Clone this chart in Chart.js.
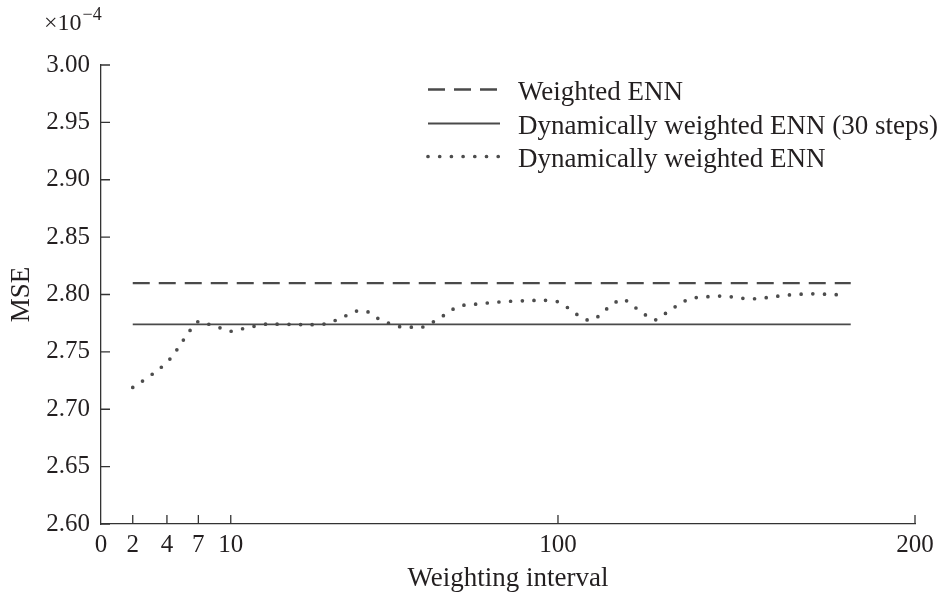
<!DOCTYPE html>
<html lang="en">
<head>
<meta charset="UTF-8" />
<title>MSE vs weighting interval</title>
<script src="https://cdn.jsdelivr.net/npm/chart.js"></script>
<style>
  body { margin: 0; background: #fff; }
  canvas { display: block; }
</style>
</head>
<body>
<canvas id="chart" width="941" height="597"></canvas>
<script>
  // axis ticks
  var xTicks = [0, 2, 4, 7, 10, 100, 200];
  var yTicks = [2.60, 2.65, 2.70, 2.75, 2.80, 2.85, 2.90, 2.95, 3.00];

  // dynamically weighted ENN, MSE (x1e-4) per weighting interval
  var intervals = [2, 3, 4, 5, 6, 7, 8, 9, 10, 13, 16, 19, 25, 35, 38, 41, 44, 46, 48, 50,
    53, 56, 59, 62, 65, 68, 70.5, 73, 76.5, 80, 83, 86, 89, 99, 102, 104.5, 107.5, 109, 110.5,
    112.5, 115, 118, 121, 123.5, 126, 127.5, 129, 131.5, 134.5, 137, 140.5, 144, 147, 150,
    153.5, 157, 160, 163, 166.5, 170, 173, 176.5, 180];
  var mseDynamic = [2.719, 2.729, 2.741, 2.7525, 2.766, 2.7765, 2.774, 2.771, 2.768, 2.770,
    2.772, 2.774, 2.774, 2.774, 2.7765, 2.7805, 2.785, 2.786, 2.7845, 2.780,
    2.7755, 2.7722, 2.7718, 2.771, 2.775, 2.7805, 2.786, 2.790, 2.7913, 2.7924, 2.7933, 2.7939,
    2.7944, 2.7944, 2.790, 2.7843, 2.7785, 2.7777, 2.779,
    2.7846, 2.7904, 2.796, 2.790, 2.7846, 2.779, 2.778, 2.781, 2.7866, 2.7924, 2.7965, 2.7977,
    2.7985, 2.7985, 2.7974, 2.7962, 2.7968, 2.7979, 2.7991, 2.800, 2.8005, 2.8005, 2.800, 2.7997];

  // constant references
  var flatRange = [2, 182];
  var mseWeighted = 2.81;
  var mseDyn30 = 2.774;

  var seriesNames = ["Weighted ENN", "Dynamically weighted ENN (30 steps)", "Dynamically weighted ENN"];

  var FONT = "'Liberation Serif', 'Times New Roman', serif";
  var INK = "#231f20";
  var LINE = "#4a4a4a";

  // x axis is piecewise: 0..10 stretched, then linear
  class BrokenScale extends Chart.LinearScale {
    warp(v) {
      var b = this.options.breaks;
      if (v <= b[0][0]) return b[0][1];
      for (var i = 1; i < b.length; i++) {
        if (v <= b[i][0]) {
          var t = (v - b[i - 1][0]) / (b[i][0] - b[i - 1][0]);
          return b[i - 1][1] + t * (b[i][1] - b[i - 1][1]);
        }
      }
      return b[b.length - 1][1];
    }
    getPixelForValue(v) {
      return v == null ? NaN : this.getPixelForDecimal(this.warp(v));
    }
    getValueForPixel(p) {
      var d = this.getDecimalForPixel(p), b = this.options.breaks;
      for (var i = 1; i < b.length; i++) {
        if (d <= b[i][1]) {
          var t = (d - b[i - 1][1]) / (b[i][1] - b[i - 1][1]);
          return b[i - 1][0] + t * (b[i][0] - b[i - 1][0]);
        }
      }
      return b[b.length - 1][0];
    }
  }
  BrokenScale.id = "broken";
  BrokenScale.defaults = {};
  Chart.register(BrokenScale);

  function flat(v) {
    return [{ x: flatRange[0], y: v }, { x: flatRange[1], y: v }];
  }

  var dynPoints = intervals.map(function (x, i) { return { x: x, y: mseDynamic[i] }; });

  var tickMarks = {
    id: "tickMarks",
    afterDraw: function (chart) {
      var ctx = chart.ctx, a = chart.chartArea;
      var xs = chart.scales.x, ys = chart.scales.y;
      ctx.save();
      ctx.strokeStyle = "#333";
      ctx.lineWidth = 1.3;
      ctx.beginPath();
      ys.ticks.forEach(function (t) {
        var y = ys.getPixelForValue(t.value);
        ctx.moveTo(a.left, y);
        ctx.lineTo(a.left + 9, y);
      });
      xs.ticks.forEach(function (t) {
        if (t.value === 0) return;
        var x = xs.getPixelForValue(t.value);
        ctx.moveTo(x, a.bottom);
        ctx.lineTo(x, a.bottom - 9);
      });
      ctx.stroke();

      // exponent label
      ctx.fillStyle = INK;
      ctx.textBaseline = "alphabetic";
      ctx.textAlign = "left";
      ctx.font = "24px " + FONT;
      ctx.fillText("\u00d710", 44, 30);
      var w = ctx.measureText("\u00d710").width;
      ctx.font = "18px " + FONT;
      ctx.fillText("\u22124", 44 + w + 1, 20);
      ctx.restore();
    }
  };

  var innerLegend = {
    id: "innerLegend",
    afterDraw: function (chart) {
      var ctx = chart.ctx;
      var rows = [93, 127, 160];
      ctx.save();
      chart.data.datasets.forEach(function (ds, i) {
        var y = rows[i] - 3.5;
        ctx.strokeStyle = ds.borderColor;
        ctx.lineWidth = ds.borderWidth;
        ctx.lineCap = ds.borderCapStyle || "butt";
        ctx.setLineDash(ds.borderDash || []);
        ctx.beginPath();
        ctx.moveTo(428, y);
        ctx.lineTo(500, y);
        ctx.stroke();
        ctx.setLineDash([]);
        ctx.fillStyle = INK;
        ctx.font = "27px " + FONT;
        ctx.textBaseline = "middle";
        ctx.textAlign = "left";
        ctx.fillText(ds.label, 518, rows[i]);
      });
      ctx.restore();
    }
  };

  var ctx = document.getElementById("chart").getContext("2d");
  var chart = new Chart(ctx, {
    type: "line",
    data: {
      datasets: [
        {
          label: seriesNames[0],
          data: flat(mseWeighted),
          borderColor: LINE,
          borderWidth: 2.3,
          borderDash: [17, 9],
          pointRadius: 0,
        },
        {
          label: seriesNames[1],
          data: flat(mseDyn30),
          borderColor: LINE,
          borderWidth: 1.8,
          pointRadius: 0,
        },
        {
          label: seriesNames[2],
          data: dynPoints,
          borderColor: "#4d4d4d",
          borderWidth: 3.7,
          borderDash: [0, 11.7],
          borderCapStyle: "round",
          pointRadius: 0,
          tension: 0.35,
        },
      ],
    },
    options: {
      responsive: false,
      animation: false,
      events: [],
      layout: { padding: { top: 65, right: 26, left: 0, bottom: 0 } },
      plugins: {
        legend: { display: false },
        tooltip: { enabled: false },
      },
      scales: {
        x: {
          type: "broken",
          min: 0,
          max: 200,
          breaks: [[0, 0], [2, 0.039], [4, 0.081], [7, 0.1196], [10, 0.1594], [100, 0.5614], [200, 1]],
          afterBuildTicks: function (scale) {
            scale.ticks = xTicks.map(function (v) { return { value: v }; });
          },
          afterFit: function (scale) { scale.height = 73; },
          grid: { display: false, drawTicks: false },
          border: { display: true, color: "#333", width: 1.3 },
          ticks: {
            autoSkip: false,
            maxRotation: 0,
            padding: 6,
            color: INK,
            font: { family: FONT, size: 25 },
            callback: function (v) { return String(v); },
          },
          title: {
            display: true,
            text: "Weighting interval",
            color: INK,
            font: { family: FONT, size: 27 },
            padding: { top: 0, bottom: 2 },
          },
        },
        y: {
          type: "linear",
          min: 2.6,
          max: 3.0,
          afterBuildTicks: function (scale) {
            scale.ticks = yTicks.map(function (v) { return { value: v }; });
          },
          afterFit: function (scale) { scale.width = 101; },
          grid: { display: false, drawTicks: false },
          border: { display: true, color: "#333", width: 1.3 },
          ticks: {
            padding: 11,
            color: INK,
            font: { family: FONT, size: 25 },
            callback: function (v) { return Number(v).toFixed(2); },
          },
          title: {
            display: true,
            text: "MSE",
            color: INK,
            font: { family: FONT, size: 27 },
            padding: { top: 6, bottom: 0 },
          },
        },
      },
    },
    plugins: [tickMarks, innerLegend],
  });
</script>
</body>
</html>
